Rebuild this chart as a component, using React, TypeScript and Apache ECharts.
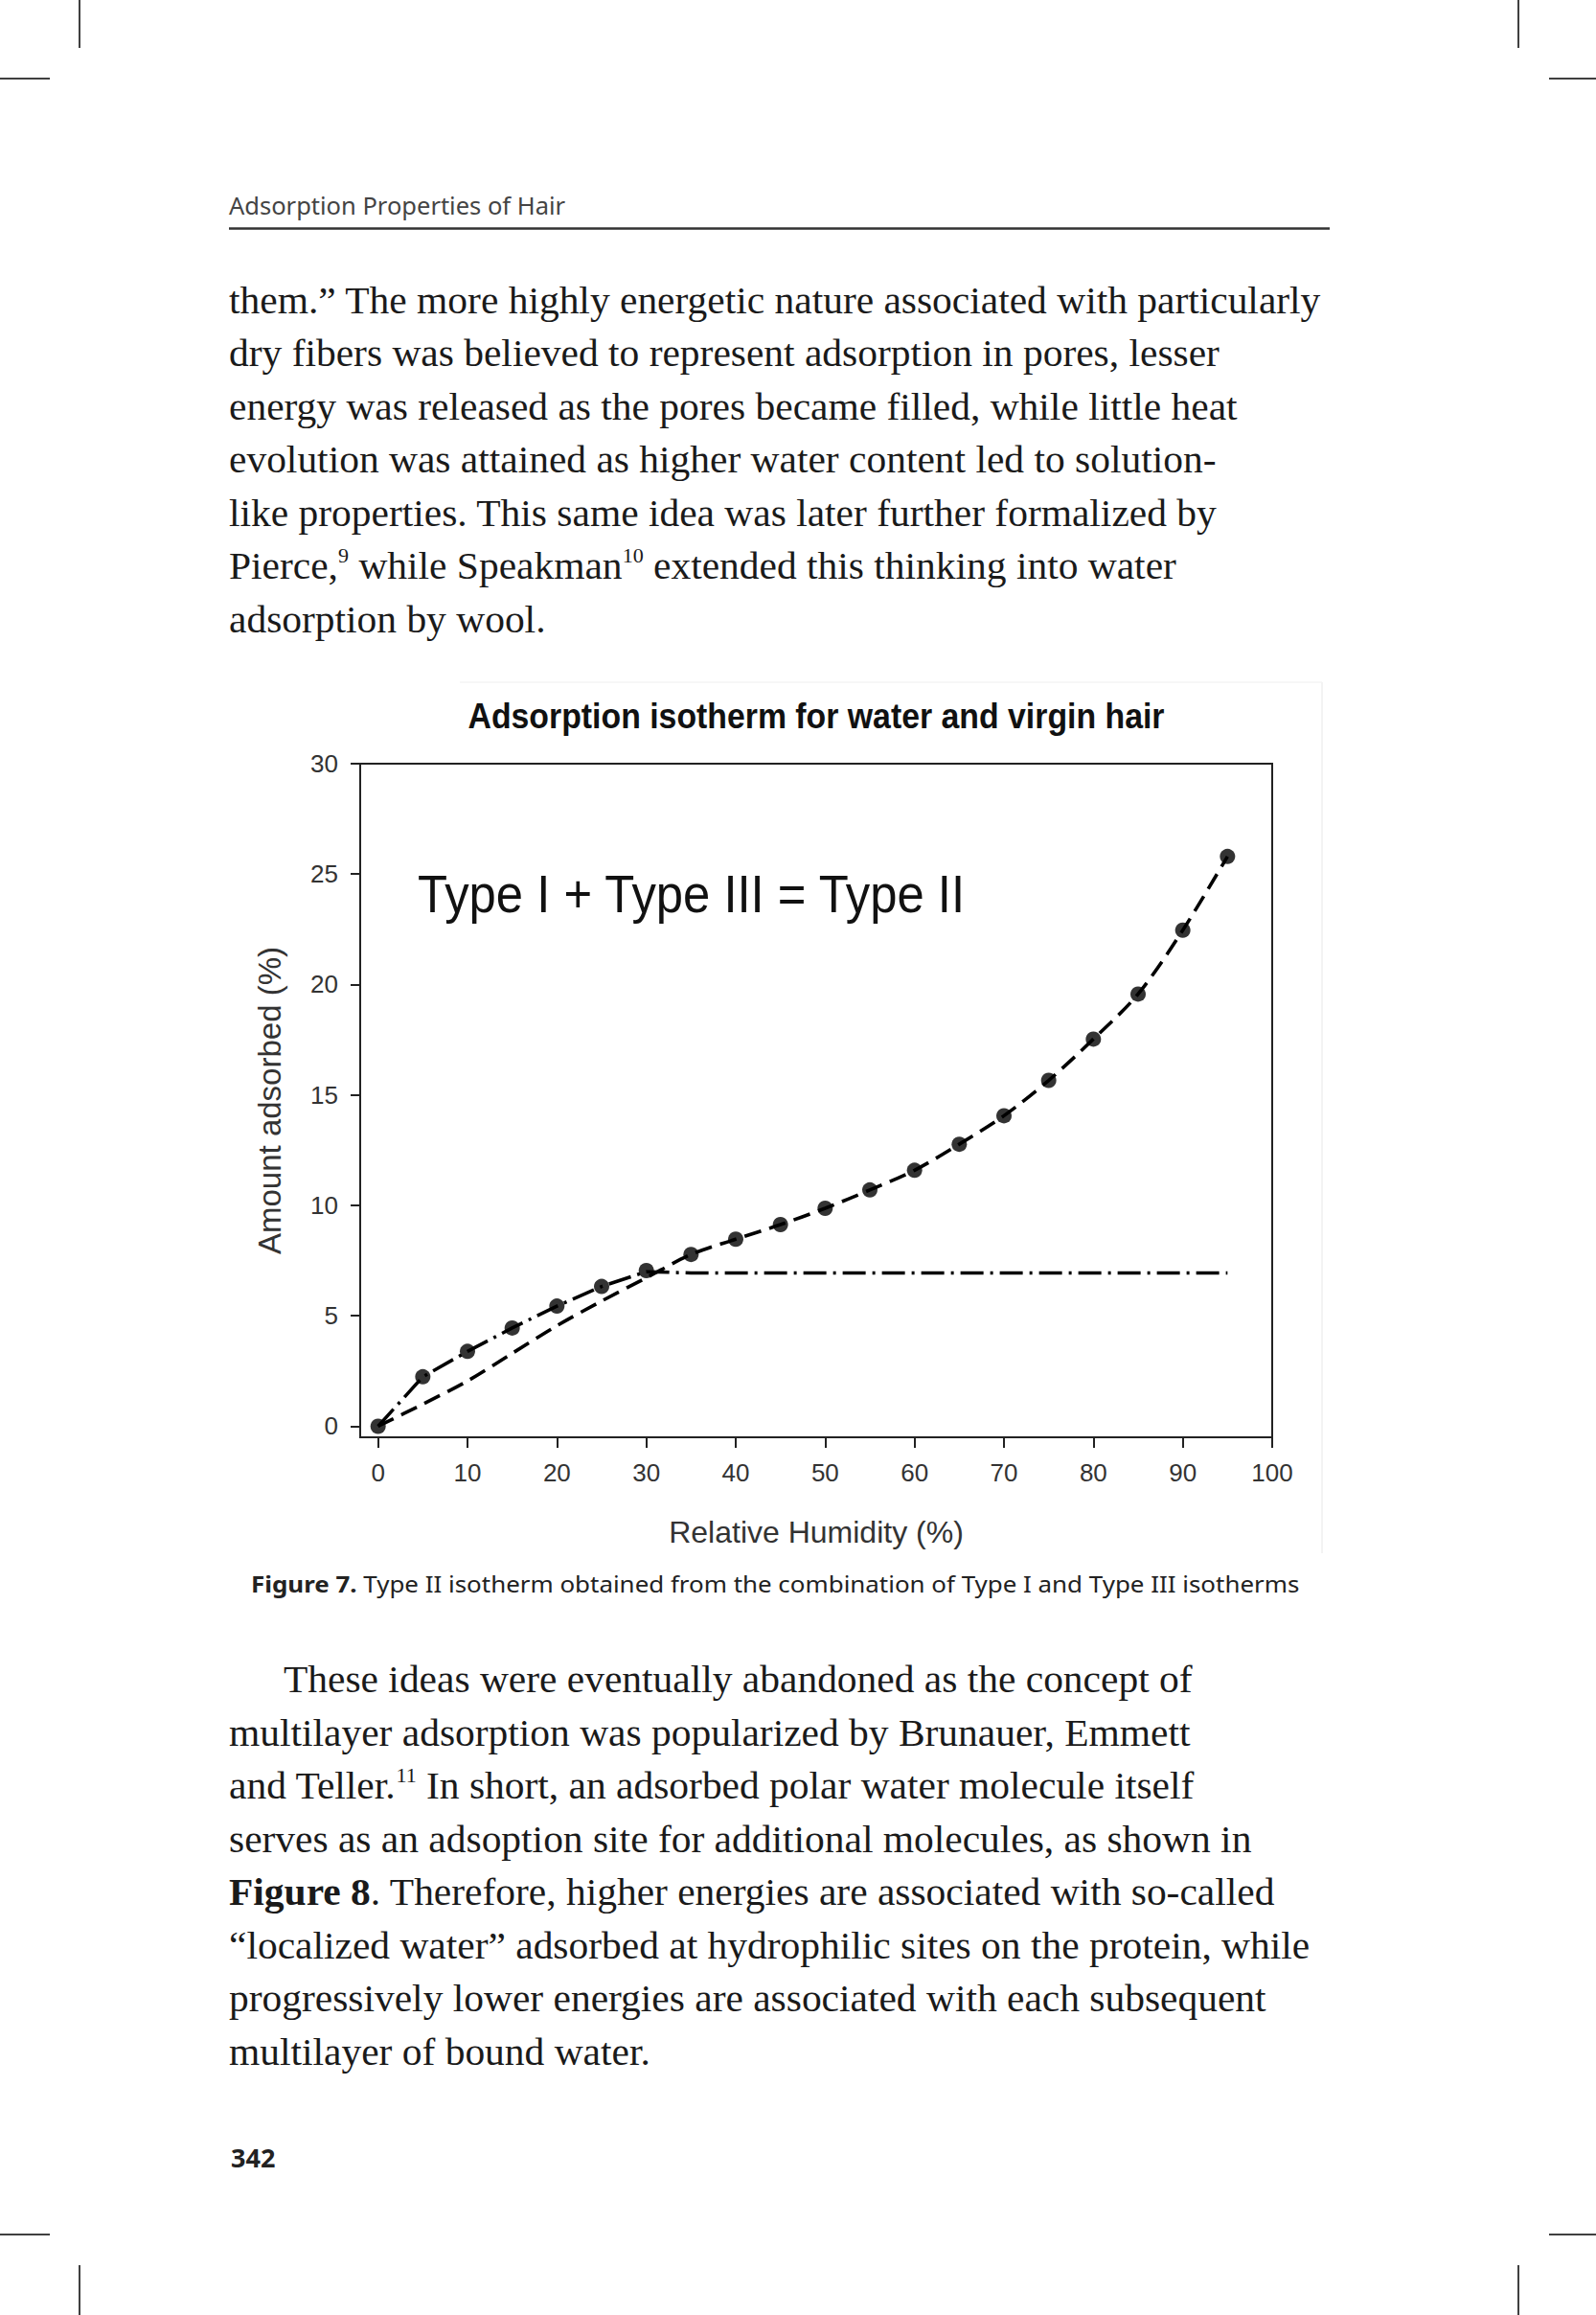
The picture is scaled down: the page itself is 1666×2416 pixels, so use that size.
import React, { useEffect, useRef } from "react";
import * as echarts from "echarts";

// ---------- chart data ----------
const humidity = [0, 5, 10, 15, 20, 25, 30, 35, 40, 45, 50, 55, 60, 65, 70, 75, 80, 85, 90, 95];
const measured = [0, 2.24, 3.39, 4.45, 5.44, 6.33, 7.05, 7.78, 8.47, 9.13, 9.87, 10.7, 11.59, 12.77, 14.06, 15.66, 17.53, 19.57, 22.46, 25.8];
const typeIICurve = [0, 1.0, 2.05, 3.3, 4.55, 5.67, 6.72, 7.78, 8.47, 9.13, 9.87, 10.7, 11.59, 12.77, 14.06, 15.66, 17.53, 19.57, 22.46, 25.8];
const typeICurve = [0, 2.24, 3.39, 4.45, 5.44, 6.33, 7.0, 6.94, 6.94, 6.94, 6.94, 6.94, 6.94, 6.94, 6.94, 6.94, 6.94, 6.94, 6.94, 6.94];
const xTicks = [0, 10, 20, 30, 40, 50, 60, 70, 80, 90, 100];
const yTicks = [0, 5, 10, 15, 20, 25, 30];

// ---------- page texts ----------
const chartTitle = "Adsorption isotherm for water and virgin hair";
const annotation = "Type I + Type III = Type II";
const xName = "Relative Humidity (%)";
const yName = "Amount adsorbed (%)";
const runningHead = "Adsorption Properties of Hair";
const para1 = [
  "them.\u201D The more highly energetic nature associated with particularly",
  "dry fibers was believed to represent adsorption in pores, lesser",
  "energy was released as the pores became filled, while little heat",
  "evolution was attained as higher water content led to solution-",
  "like properties. This same idea was later further formalized by",
  "Pierce,{sup|9} while Speakman{sup|10} extended this thinking into water",
  "adsorption by wool.",
];
const caption = "{b|Figure 7.} Type II isotherm obtained from the combination of Type I and Type III isotherms";
const para2 = [
  "These ideas were eventually abandoned as the concept of",
  "multilayer adsorption was popularized by Brunauer, Emmett",
  "and Teller.{sup|11} In short, an adsorbed polar water molecule itself",
  "serves as an adsoption site for additional molecules, as shown in",
  "{b|Figure 8}. Therefore, higher energies are associated with so-called",
  "\u201Clocalized water\u201D adsorbed at hydrophilic sites on the protein, while",
  "progressively lower energies are associated with each subsequent",
  "multilayer of bound water.",
];
const pageNumber = "342";

const SERIF = "'Liberation Serif', 'DejaVu Serif', serif";
const SANS = "'Noto Sans', 'Open Sans', sans-serif";
const ARIAL = "'Liberation Sans', Arial, sans-serif";

function pair(xs: number[], ys: number[]) {
  return xs.map((x, i) => [x, ys[i]]);
}

export default function App() {
  const ref = useRef<HTMLDivElement>(null);
  useEffect(() => {
    if (!ref.current) return;
    const chart = echarts.init(ref.current, undefined, { renderer: "svg" });

    const bodySize = 39.5;
    const bodyMid = 0.3375 * bodySize;
    const lineStep = 55.5;
    const ink = "#1a1a1a";
    const bodyRich = {
      sup: { fontFamily: SERIF, fontSize: 21, lineHeight: 30, verticalAlign: "top", fill: ink },
      b: { fontFamily: SERIF, fontSize: bodySize, fontWeight: "bold", lineHeight: 42, fill: ink },
    };
    const bodyLine = (t: string, x: number, baseline: number) => ({
      type: "text",
      x,
      y: baseline - bodyMid,
      scaleX: 1.05,
      silent: true,
      style: {
        text: t,
        fontFamily: SERIF,
        fontSize: bodySize,
        lineHeight: 42,
        fill: ink,
        align: "left",
        textAlign: "left",
        verticalAlign: "middle",
        textVerticalAlign: "middle",
        rich: bodyRich,
      },
    });

    const graphics: any[] = [];
    // crop marks
    const marks = [
      [83, 0, 83, 50], [1585, 0, 1585, 50],
      [0, 82, 52, 82], [1617, 82, 1666, 82],
      [0, 2332, 52, 2332], [1617, 2332, 1666, 2332],
      [83, 2364, 83, 2416], [1585, 2364, 1585, 2416],
    ];
    marks.forEach((m) =>
      graphics.push({ type: "line", silent: true, shape: { x1: m[0], y1: m[1], x2: m[2], y2: m[3] }, style: { stroke: "#000", lineWidth: 1.5 } })
    );
    // running head
    graphics.push({
      type: "text", x: 239, y: 224 - 0.388 * 25.5, silent: true,
      style: { text: runningHead, fontFamily: SANS, fontSize: 25.5, fill: "#444", align: "left", textAlign: "left", verticalAlign: "middle", textVerticalAlign: "middle" },
    });
    graphics.push({ type: "line", silent: true, shape: { x1: 239, y1: 238.5, x2: 1388, y2: 238.5 }, style: { stroke: "#333", lineWidth: 2.5 } });
    // paragraph 1
    para1.forEach((t, i) => graphics.push(bodyLine(t, 239, 326.7 + lineStep * i)));
    // faint edges of the chart image
    graphics.push({ type: "line", silent: true, shape: { x1: 1380, y1: 712, x2: 1380, y2: 1621 }, style: { stroke: "#efefef", lineWidth: 1.5 } });
    graphics.push({ type: "line", silent: true, shape: { x1: 480, y1: 712, x2: 1380, y2: 712 }, style: { stroke: "#f4f4f4", lineWidth: 1.5 } });
    // chart title
    graphics.push({
      type: "text", x: 852, y: 760 - 0.3465 * 37, scaleX: 0.914, silent: true,
      style: { text: chartTitle, fontFamily: ARIAL, fontWeight: "bold", fontSize: 37, fill: "#111", align: "center", textAlign: "center", verticalAlign: "middle", textVerticalAlign: "middle" },
    });
    // annotation
    graphics.push({
      type: "text", x: 436, y: 952 - 0.3465 * 56, scaleX: 0.907, silent: true,
      style: { text: annotation, fontFamily: ARIAL, fontSize: 56, fill: "#111", align: "left", textAlign: "left", verticalAlign: "middle", textVerticalAlign: "middle" },
    });
    // caption
    graphics.push({
      type: "text", x: 262, y: 1662 - 0.388 * 24, scaleX: 1.08, silent: true,
      style: {
        text: caption, fontFamily: SANS, fontSize: 24, fill: "#222", lineHeight: 30,
        align: "left", textAlign: "left", verticalAlign: "middle", textVerticalAlign: "middle",
        rich: { b: { fontFamily: SANS, fontSize: 24, fontWeight: "bold", fill: "#222", lineHeight: 30 } },
      },
    });
    // paragraph 2
    para2.forEach((t, i) => graphics.push(bodyLine(t, i === 0 ? 296 : 239, 1766.5 + lineStep * i)));
    // page number
    graphics.push({
      type: "text", x: 241, y: 2262 - 0.388 * 27, silent: true,
      style: { text: pageNumber, fontFamily: SANS, fontWeight: "bold", fontSize: 27, fill: "#222", align: "left", textAlign: "left", verticalAlign: "middle", textVerticalAlign: "middle" },
    });

    chart.setOption({
      animation: false,
      backgroundColor: "#ffffff",
      grid: {
        left: 376, top: 797, width: 952, height: 703,
        show: true, borderColor: "#222", borderWidth: 2, backgroundColor: "transparent",
      },
      xAxis: {
        type: "value", min: -2, max: 100,
        axisLine: { show: true, onZero: false, lineStyle: { color: "#222", width: 2 } },
        axisTick: { show: true, inside: false, length: 11, customValues: xTicks, lineStyle: { color: "#222", width: 2 } },
        axisLabel: { customValues: xTicks, fontFamily: ARIAL, fontSize: 26, color: "#333", margin: 24 },
        splitLine: { show: false },
        name: xName, nameLocation: "middle", nameGap: 83,
        nameTextStyle: { fontFamily: ARIAL, fontSize: 32, color: "#333" },
      },
      yAxis: {
        type: "value", min: -0.5, max: 30,
        axisLine: { show: true, onZero: false, lineStyle: { color: "#222", width: 2 } },
        axisTick: { show: true, inside: false, length: 10, customValues: yTicks, lineStyle: { color: "#222", width: 2 } },
        axisLabel: { customValues: yTicks, fontFamily: ARIAL, fontSize: 26, color: "#333", margin: 23 },
        splitLine: { show: false },
        name: yName, nameLocation: "middle", nameGap: 78, nameRotate: 90,
        nameTextStyle: { fontFamily: ARIAL, fontSize: 33, color: "#333" },
      },
      series: [
        {
          name: "Type I", type: "line", data: pair(humidity, typeICurve), symbol: "none",
          lineStyle: { color: "#000", width: 3.5, type: [24, 7, 3, 7] }, z: 2,
        },
        {
          name: "Type II", type: "line", data: pair(humidity, typeIICurve), symbol: "none", smooth: 0.3,
          lineStyle: { color: "#000", width: 3.6, type: [18, 9] }, z: 2,
        },
        {
          name: "Measured", type: "scatter", data: pair(humidity, measured), symbol: "circle", symbolSize: 16,
          itemStyle: { color: "#000" }, z: 3,
        },
      ],
      graphic: graphics,
    });
    return () => chart.dispose();
  }, []);
  return <div ref={ref} style={{ position: "absolute", left: 0, top: 0, width: 1666, height: 2416, background: "#fff" }} />;
}
